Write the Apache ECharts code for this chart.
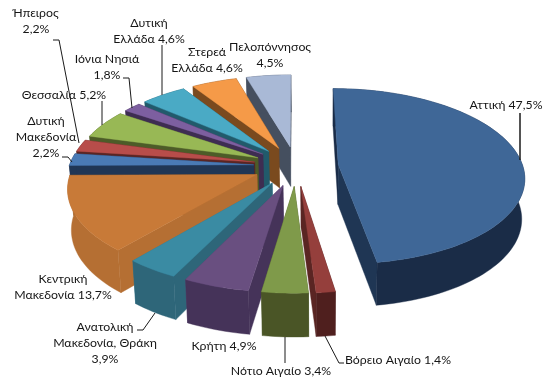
<!DOCTYPE html>
<html><head><meta charset="utf-8">
<style>html,body{margin:0;padding:0;background:#fff}#c{width:557px;height:383px}</style>
<script src="https://cdn.jsdelivr.net/npm/echarts@6/dist/echarts.min.js"></script>
</head><body><div id="c"></div>
<script>
const regions = ['Αττική','Βόρειο Αιγαίο','Νότιο Αιγαίο','Κρήτη','Ανατολική Μακεδονία, Θράκη','Κεντρική Μακεδονία','Δυτική Μακεδονία','Ήπειρος','Θεσσαλία','Ιόνια Νησιά','Δυτική Ελλάδα','Στερεά Ελλάδα','Πελοπόννησος'];
const shares = [47.5,1.4,3.4,4.9,3.9,13.7,2.2,2.2,5.2,1.8,4.6,4.6,4.5];
const topColors = ['#3f6797','#953f3c','#7f9a4a','#694f80','#3a8ba3','#c87a38','#4a7ab5','#b84d4a','#98b855','#7d5fa0','#4aaac5','#f59a48','#a9b9d6'];
const arcColors = ['#1a2c47','#4f1f1e','#4a5526','#453359','#2e6679','#b56f33','#203655','#5a2523','#4d5c28','#3e2d52','#215a6b','#7a4a1e','#454f5f'];
const sideColors = ['#1f3654','#5a2523','#4a5526','#584470','#2f7a8f','#7f4f24','#203655','#5a2523','#4d5c28','#3e2d52','#215a6b','#7a4a1e','#454f5f'];

const view = {cx:296, cy:166, rx:184.5, ry:86.4, persp:0.134, explode:0.23, depth:40, vx:320, shrink:0.985};
const FONT = 'Lato, "Noto Sans", sans-serif';
const labels = [
 {x:36,y:21,t:'Ήπειρος\n2,2%'},{x:149,y:31,t:'Δυτική\nΕλλάδα 4,6%'},{x:107,y:67,t:'Ιόνια Νησιά\n1,8%'},
 {x:64,y:95,t:'Θεσσαλία 5,2%'},{x:46,y:137,t:'Δυτική\nΜακεδονία\n2,2%'},{x:207,y:60,t:'Στερεά\nΕλλάδα 4,6%'},
 {x:270,y:55,t:'Πελοπόννησος\n4,5%'},{x:506,y:105,t:'Αττική 47,5%'},{x:63,y:287,t:'Κεντρική\nΜακεδονία 13,7%'},
 {x:105,y:343,t:'Ανατολική\nΜακεδονία, Θράκη\n3,9%'},{x:224,y:346,t:'Κρήτη 4,9%'},{x:281,y:371,t:'Νότιο Αιγαίο 3,4%'},
 {x:398,y:360,t:'Βόρειο Αιγαίο 1,4%'}];
const leaders = [
 [[53,40],[59,40],[79,143]],[[123,78],[129,78],[132,108]],[[162,45],[162,95]],[[102,101],[102,125]],
 [[62,157],[68,157],[72,162]],[[520,113],[520,160]],[[137,330],[143,330],[155,313]],[[285,337],[285,363]],
 [[325,336],[339,363],[344,363]]];

const total = shares.reduce((a,b)=>a+b,0);
let run = 0;
const slices = shares.map((v,i)=>{const a0=run/total*2*Math.PI; run+=v; const a1=run/total*2*Math.PI; return {i,a0,a1,mid:(a0+a1)/2};});
const order = slices.slice().sort((p,q)=>(-Math.cos(p.mid))-(-Math.cos(q.mid)));

function proj(X,Z){const s=1/(1-view.persp*Z);return {x:view.cx+view.rx*X*s,y:view.cy+view.ry*Z*s,s};}
function topPt(sl,r,a){const e=view.explode;return proj(Math.sin(sl.mid)*e+r*Math.sin(a),-Math.cos(sl.mid)*e-r*Math.cos(a));}
function t(p){return [p.x,p.y];}
function b(p){return [view.vx+(p.x-view.vx)*view.shrink,p.y+view.depth*Math.sqrt(p.s)];}
function poly(points,fill,stroke){return {type:'polygon',shape:{points},style:{fill,stroke:stroke||fill,lineWidth:0.4}};}

function renderItem(params){
  const sl=order[params.dataIndex]; const i=sl.i;
  const n=Math.max(3,Math.ceil((sl.a1-sl.a0)/0.03)); const arc=[];
  for(let k=0;k<=n;k++) arc.push(topPt(sl,1,sl.a0+(sl.a1-sl.a0)*k/n));
  const apex=topPt(sl,0,sl.mid);
  const children=[];
  const wall=(pa,pb,col)=>poly([t(pa),t(pb),b(pb),b(pa)],col);
  const s0=arc[0], s1=arc[n];
  const walls=[[s0,arcColors[i]],[s1,sideColors[i]]];
  if(s0.y>s1.y) walls.reverse();
  walls.forEach(w=>children.push(wall(apex,w[0],w[1])));
  const outer=arc.map(t).concat(arc.slice().reverse().map(b));
  children.push(poly(outer,arcColors[i]));
  children.push(poly([t(apex)].concat(arc.map(t)),topColors[i]));
  return {type:'group',children};
}

const graphics=[];
leaders.forEach((l,k)=>graphics.push({type:'polyline',shape:{points:l},style:{stroke:'#1a1a1a',lineWidth:k===5?1.5:1,fill:null},z:10}));
labels.forEach(l=>graphics.push({type:'text',x:l.x,y:l.y,z:11,style:{text:l.t,fill:'#151515',font:'12.3px '+FONT,align:'center',verticalAlign:'middle',lineHeight:16.3}}));

const chart=echarts.init(document.getElementById('c'),null,{renderer:'canvas'});
chart.setOption({animation:false,backgroundColor:'#fff',
 series:[{type:'custom',coordinateSystem:'none',silent:true,renderItem,
   data:order.map(sl=>({name:regions[sl.i],value:shares[sl.i]}))}],
 graphic:{elements:graphics}});
</script></body></html>
